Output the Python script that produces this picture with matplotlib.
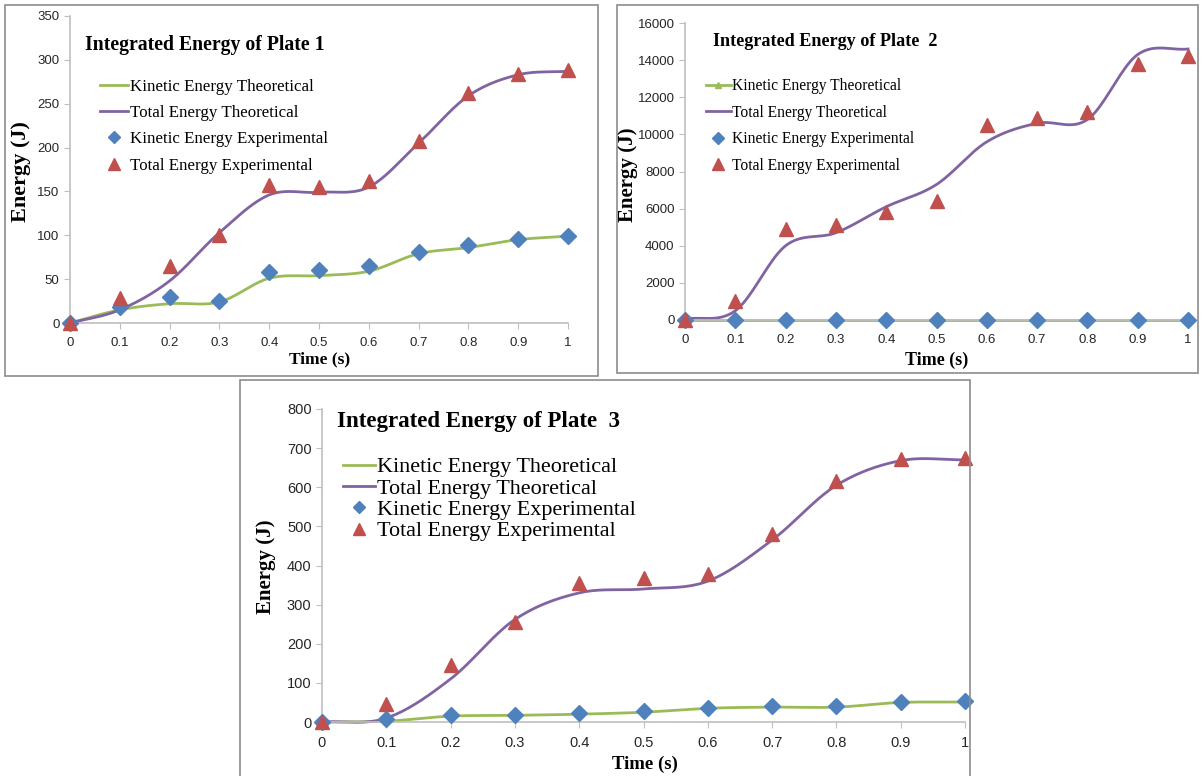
import numpy as np
import matplotlib
matplotlib.use("Agg")
import matplotlib.pyplot as plt
from matplotlib.patches import Rectangle
from matplotlib.lines import Line2D

plt.rcParams['font.family'] = ['Liberation Serif', 'DejaVu Serif']
TICK_FONT = ['Liberation Sans', 'DejaVu Sans']

# ---------------- data ----------------
time = [0, 0.1, 0.2, 0.3, 0.4, 0.5, 0.6, 0.7, 0.8, 0.9, 1.0]
x_ticklabels = ["0", "0.1", "0.2", "0.3", "0.4", "0.5", "0.6", "0.7", "0.8", "0.9", "1"]

p1_ke_theo = [0, 15, 22, 24, 51, 54, 59, 79, 86, 95, 99]
p1_te_theo = [0, 15, 48, 103, 146, 149, 155, 205, 259, 283, 287]
p1_ke_exp = [0, 18, 30, 25, 58, 60, 65, 81, 89, 96, 99]
p1_te_exp = [0, 28, 65, 100, 157, 155, 162, 208, 262, 284, 288]

p2_ke_theo = [0, 0, 0, 0, 0, 0, 0, 0, 0, 0, 0]
p2_te_theo = [50, 500, 4000, 4700, 6100, 7300, 9600, 10600, 10800, 14300, 14600]
p2_ke_exp = [0, 0, 0, 0, 0, 0, 0, 0, 0, 0, 0]
p2_te_exp = [0, 1000, 4900, 5100, 5800, 6400, 10500, 10900, 11200, 13800, 14200]

p3_ke_theo = [0, 2, 15, 17, 20, 25, 35, 38, 38, 50, 51]
p3_te_theo = [0, 10, 110, 262, 330, 340, 360, 465, 605, 668, 670]
p3_ke_exp = [0, 8, 18, 18, 22, 28, 36, 40, 40, 52, 53]
p3_te_exp = [0, 47, 145, 255, 355, 368, 378, 480, 615, 672, 675]

titles = ["Integrated Energy of Plate 1", "Integrated Energy of Plate  2",
          "Integrated Energy of Plate  3"]
legend_labels = ["Kinetic Energy Theoretical", "Total Energy Theoretical",
                 "Kinetic Energy Experimental", "Total Energy Experimental"]

GREEN = "#9BBB59"
PURPLE = "#8064A2"
BLUE = "#4F81BD"
RED = "#C0504D"

W, H = 1203, 776


def smooth(x, y, n=20):
    """Excel-style smoothed line drawing (Catmull-Rom through the points)."""
    x = np.asarray(x, float)
    y = np.asarray(y, float)
    px = np.concatenate([[2 * x[0] - x[1]], x, [2 * x[-1] - x[-2]]])
    py = np.concatenate([[2 * y[0] - y[1]], y, [2 * y[-1] - y[-2]]])
    xs, ys = [], []
    t = np.linspace(0, 1, n, endpoint=False)
    for i in range(1, len(px) - 2):
        for arr, (a, b, c, d) in ((xs, px[i - 1:i + 3]), (ys, py[i - 1:i + 3])):
            arr.extend(0.5 * ((2 * b) + (-a + c) * t + (2 * a - 5 * b + 4 * c - d) * t ** 2
                              + (-a + 3 * b - 3 * c + d) * t ** 3))
    xs.append(x[-1])
    ys.append(y[-1])
    return np.array(xs), np.array(ys)


def fx(px):
    return px / W


def fy(py):
    return 1 - py / H


fig = plt.figure(figsize=(W / 100, H / 100), dpi=100)
fig.patch.set_facecolor("white")

# panel frames
for (x0, y0, x1, y1) in [(5, 5, 598, 376), (617, 5, 1198, 373), (240, 380, 970, 800)]:
    fig.patches.append(Rectangle((fx(x0), fy(y1)), fx(x1) - fx(x0), fy(y0) - fy(y1),
                                 transform=fig.transFigure, fill=False,
                                 edgecolor="#8c8c8c", linewidth=1.2))

panels = [
    dict(axpx=(70, 16, 568, 323), ymax=350, ystep=50,
         data=(p1_ke_theo, p1_te_theo, p1_ke_exp, p1_te_exp),
         title_xy=(85, 45), title_fs=14.2, leg_xy=(100, 79), leg_fs=12.2, leg_sp=0.6,
         hl=1.65, ylab_xy=(21, 172), ylab_fs=16, xlab_xy=(320, 359), xlab_fs=12.5,
         tick_fs=9.5, ke_marker=False),
    dict(axpx=(685, 23, 1188, 320), ymax=16000, ystep=2000,
         data=(p2_ke_theo, p2_te_theo, p2_ke_exp, p2_te_exp),
         title_xy=(713, 42), title_fs=13.1, leg_xy=(706, 78), leg_fs=11.2, leg_sp=0.68,
         hl=1.6, ylab_xy=(628, 175), ylab_fs=15, xlab_xy=(937, 360), xlab_fs=13,
         tick_fs=9.5, ke_marker=True),
    dict(axpx=(322, 409, 965, 722), ymax=800, ystep=100,
         data=(p3_ke_theo, p3_te_theo, p3_ke_exp, p3_te_exp),
         title_xy=(337, 422), title_fs=16.5, leg_xy=(343, 457), leg_fs=15.9, leg_sp=0.04,
         hl=1.45, ylab_xy=(266, 567), ylab_fs=15, xlab_xy=(645, 764), xlab_fs=13.5,
         tick_fs=10.5, ke_marker=False),
]

for i, p in enumerate(panels):
    l, t, r, b = p["axpx"]
    ax = fig.add_axes([fx(l), fy(b), fx(r) - fx(l), fy(t) - fy(b)])
    ke_t, te_t, ke_e, te_e = p["data"]
    sx, sy = smooth(time, ke_t)
    ax.plot(sx, sy, color=GREEN, lw=2, clip_on=False, zorder=2)
    sx, sy = smooth(time, te_t)
    ax.plot(sx, sy, color=PURPLE, lw=2, clip_on=False, zorder=2)
    ax.plot(time, ke_e, linestyle="none", marker="D", markersize=8.5, color=BLUE,
            clip_on=False, zorder=3)
    ax.plot(time, te_e, linestyle="none", marker="^", markersize=9.5, color=RED,
            clip_on=False, zorder=3)

    ax.set_xlim(0, 1)
    ax.set_ylim(0, p["ymax"])
    ax.set_xticks(time)
    ax.set_xticklabels(x_ticklabels)
    ax.set_yticks(np.arange(0, p["ymax"] + 1, p["ystep"]))
    for s in ("top", "right"):
        ax.spines[s].set_visible(False)
    for s in ("left", "bottom"):
        ax.spines[s].set_color("#bfbfbf")
        ax.spines[s].set_linewidth(1.2)
    ax.tick_params(axis="both", colors="#bfbfbf", labelcolor="#262626",
                   labelsize=p["tick_fs"], length=4, direction="out")
    ax.tick_params(axis="x", pad=6)
    for lab in ax.get_xticklabels() + ax.get_yticklabels():
        lab.set_family(TICK_FONT)
    ax.set_facecolor("none")

    handles = [
        Line2D([], [], color=GREEN, lw=2, marker="^" if p["ke_marker"] else None,
               markersize=5),
        Line2D([], [], color=PURPLE, lw=2),
        Line2D([], [], color=BLUE, marker="D", linestyle="none", markersize=6.5),
        Line2D([], [], color=RED, marker="^", linestyle="none", markersize=8),
    ]
    fig.legend(handles, legend_labels, loc="upper left",
               bbox_to_anchor=(fx(p["leg_xy"][0]), fy(p["leg_xy"][1])),
               bbox_transform=fig.transFigure, frameon=False, borderpad=0,
               borderaxespad=0, fontsize=p["leg_fs"], handlelength=p["hl"],
               handletextpad=0.1, labelspacing=p["leg_sp"])

    fig.text(fx(p["title_xy"][0]), fy(p["title_xy"][1]), titles[i], fontsize=p["title_fs"],
             fontweight="bold", ha="left", va="center")
    fig.text(fx(p["ylab_xy"][0]), fy(p["ylab_xy"][1]), "Energy (J)", fontsize=p["ylab_fs"],
             fontweight="bold", rotation=90, ha="center", va="center")
    fig.text(fx(p["xlab_xy"][0]), fy(p["xlab_xy"][1]), "Time (s)", fontsize=p["xlab_fs"],
             fontweight="bold", ha="center", va="center")

fig.savefig("out.png", dpi=100)
